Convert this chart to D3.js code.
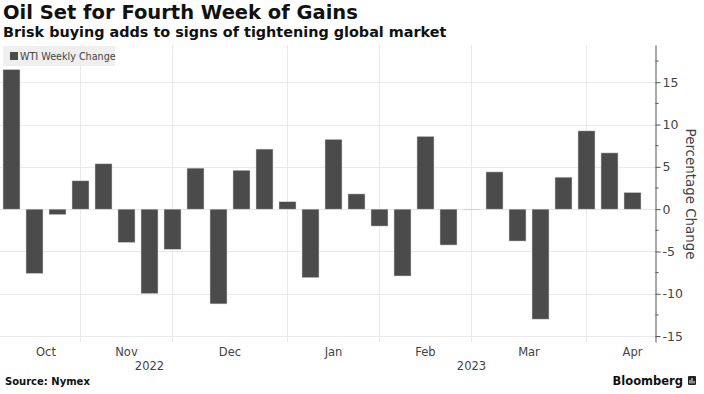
<!DOCTYPE html>
<html><head><meta charset="utf-8">
<script src="https://cdn.jsdelivr.net/npm/d3@7"></script>
<style>
body{margin:0;background:#fff;}
svg{display:block;font-family:"DejaVu Sans",Verdana,sans-serif;}
</style>
</head><body>
<svg id="c" width="704" height="394"></svg>
<script>
// ---- data ----
const weeks = ["2022-10-07","2022-10-14","2022-10-21","2022-10-28",
  "2022-11-04","2022-11-11","2022-11-18","2022-11-25",
  "2022-12-02","2022-12-09","2022-12-16","2022-12-23","2022-12-30",
  "2023-01-06","2023-01-13","2023-01-20","2023-01-27",
  "2023-02-03","2023-02-10","2023-02-17","2023-02-24",
  "2023-03-03","2023-03-10","2023-03-17","2023-03-24","2023-03-31",
  "2023-04-06","2023-04-14"];
const values = [16.5,-7.6,-0.65,3.35,
  5.36,-3.94,-9.98,-4.75,
  4.85,-11.2,4.6,7.1,0.88,
  -8.1,8.25,1.8,-2.0,
  -7.9,8.6,-4.24,-0.05,
  4.4,-3.77,-13.0,3.78,9.25,
  6.65,1.97];
const yTicks = [-15,-10,-5,0,5,10,15];
const yMinorTicks = [-12.5,-7.5,-2.5,2.5,7.5,12.5,17.5];
const seriesName = "WTI Weekly Change";
const titleText = "Oil Set for Fourth Week of Gains";
const subtitleText = "Brisk buying adds to signs of tightening global market";
const yTitle = "Percentage Change";
const sourceText = "Source: Nymex";
const brand = "Bloomberg";

// ---- scales ----
const svg = d3.select("#c");
const parse = d3.timeParse("%Y-%m-%d");
const dates = weeks.map(parse);
const n = weeks.length;
const x = d3.scaleBand().domain(d3.range(n)).range([0, 644])
  .paddingInner(6/23).paddingOuter(3/23);
const y = d3.scaleLinear().domain([-15.7, 19.4]).range([342, 45]);
const pos = i => x(0) + x.bandwidth()/2 + x.step()*i;
const axisX = 655.5;
const fmtM = d3.timeFormat("%b"), fmtY = d3.timeFormat("%Y");

// month boundaries: last week of each month present
const grid = [];
for (let i = 0; i < n - 1; i++) if (dates[i].getMonth() !== dates[i+1].getMonth()) grid.push(i);
const bounds = [0, ...grid, n + 1];
const months = [];
for (let k = 0; k < bounds.length - 1; k++) {
  const idx = k === 0 ? 0 : grid[k-1] + 1;
  months.push({label: fmtM(dates[Math.min(idx, n-1)]), at: (bounds[k] + bounds[k+1]) / 2});
}
const years = Array.from(d3.group(d3.range(n), i => fmtY(dates[i])), ([yr, idx]) =>
  ({label: yr, at: (d3.min(idx) + d3.max(idx)) / 2}));

// ---- gridlines ----
const gg = svg.append("g").attr("stroke", "#e9e9e9").attr("stroke-width", 1);
gg.selectAll("line.h").data(yTicks).join("line").attr("class","h")
  .attr("x1", 0).attr("x2", axisX).attr("y1", d => Math.round(y(d)) + 0.5).attr("y2", d => Math.round(y(d)) + 0.5);
gg.selectAll("line.v").data(grid).join("line").attr("class","v")
  .attr("x1", d => pos(d)).attr("x2", d => pos(d)).attr("y1", 45).attr("y2", 342);

// ---- bars ----
svg.append("g").selectAll("rect").data(values).join("rect")
  .attr("x", (d, i) => x(i))
  .attr("width", x.bandwidth())
  .attr("y", d => y(Math.max(0, d)))
  .attr("height", d => Math.max(0.8, Math.abs(y(d) - y(0))))
  .attr("fill", d => Math.abs(d) < 0.1 ? "#cfcfcf" : "#4b4b4b")
  .attr("stroke", "#d8d8d8").attr("stroke-width", 0.5);

// ---- y axis (right) ----
const ax = svg.append("g").attr("transform", `translate(${axisX},0)`)
  .call(d3.axisRight(y).tickValues(yTicks).tickSize(5).tickSizeOuter(0).tickPadding(2)
    .tickFormat(d => d < 0 ? "-" + Math.abs(d) : d));
ax.select(".domain").attr("stroke", "#555");
ax.selectAll(".tick line").attr("stroke", "#555");
ax.selectAll(".tick text").attr("fill", "#444").attr("font-size", 12.5)
  .attr("font-family", '"DejaVu Sans",Verdana,sans-serif');
ax.selectAll("line.minor").data(yMinorTicks).join("line").attr("class","minor")
  .attr("x1", 0).attr("x2", 3).attr("y1", d => y(d)).attr("y2", d => y(d)).attr("stroke", "#555");

svg.append("text").attr("transform", `translate(690,194) rotate(90)`)
  .attr("text-anchor", "middle").attr("dominant-baseline", "middle")
  .attr("font-size", 13.4).attr("fill", "#444").text(yTitle);

// ---- x labels ----
svg.append("g").selectAll("text").data(months).join("text")
  .attr("x", d => pos(d.at)).attr("y", 356).attr("text-anchor", "middle")
  .attr("font-size", 11.5).attr("fill", "#444").text(d => d.label);
svg.append("g").selectAll("text").data(years).join("text")
  .attr("x", d => pos(d.at)).attr("y", 370).attr("text-anchor", "middle")
  .attr("font-size", 11.5).attr("fill", "#444").text(d => d.label);

// ---- legend ----
svg.append("rect").attr("x", 3).attr("y", 46).attr("width", 112).attr("height", 20).attr("fill", "#efefef");
svg.append("rect").attr("x", 10).attr("y", 52).attr("width", 8).attr("height", 8).attr("fill", "#4b4b4b");
svg.append("text").attr("x", 20).attr("y", 60).attr("font-size", 9.6).attr("fill", "#444").text(seriesName);

// ---- titles ----
svg.append("text").attr("x", 3).attr("y", 19).attr("font-size", 19.5).attr("font-weight", "bold")
  .attr("fill", "#111").text(titleText);
svg.append("text").attr("x", 3).attr("y", 37).attr("font-size", 14.4).attr("font-weight", "bold")
  .attr("fill", "#111").text(subtitleText);

// ---- footer ----
svg.append("text").attr("x", 5).attr("y", 385).attr("font-size", 10).attr("font-weight", "bold")
  .attr("fill", "#111").text(sourceText);
svg.append("text").attr("x", 683).attr("y", 385).attr("text-anchor", "end")
  .attr("font-size", 11.5).attr("font-weight", "bold").attr("fill", "#111").text(brand);
const logo = svg.append("g").attr("transform", "translate(688,376)");
logo.append("rect").attr("width", 8).attr("height", 9).attr("rx", 1).attr("fill", "#222");
[[2,4],[4,2],[6,5]].forEach(([bx, by]) =>
  logo.append("rect").attr("x", bx - 0.5).attr("y", by).attr("width", 1).attr("height", 9 - by - 1.5).attr("fill", "#fff"));
</script>
</body></html>
